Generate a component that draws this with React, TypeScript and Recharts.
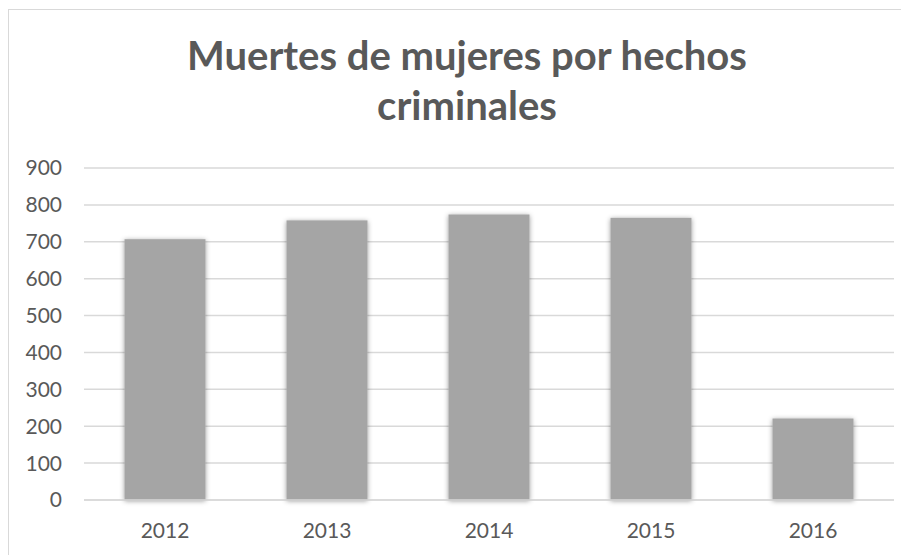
import React from 'react';
import { BarChart, Bar, XAxis, YAxis, CartesianGrid } from 'recharts';

const years = ['2012', '2013', '2014', '2015', '2016'];
const muertes = [707, 758, 774, 765, 221];
const yTicks = [0, 100, 200, 300, 400, 500, 600, 700, 800, 900];

const data = years.map((year, i) => ({ year, value: muertes[i] }));

const FONT = 'Lato, "Open Sans", sans-serif';
const TEXT = '#595959';
const GRID = '#d9d9d9';

const ShadowBar = (props: any) => {
  const { x, y, width, height } = props;
  return (
    <rect x={x} y={y} width={width} height={height} fill="#a5a5a5" filter="url(#barShadow)" />
  );
};

const App: React.FC = () => {
  return (
    <div
      style={{
        position: 'relative',
        width: 900,
        height: 546,
        marginTop: 1,
        borderLeft: `1.5px solid ${GRID}`,
        borderTop: `1.5px solid ${GRID}`,
        background: '#fff',
        fontFamily: FONT,
      }}
    >
      <svg width={0} height={0} style={{ position: 'absolute' }}>
        <defs>
          <filter id="barShadow" x="-20%" y="-20%" width="140%" height="140%">
            <feDropShadow dx={0} dy={1} stdDeviation={2.5} floodColor="#000" floodOpacity={0.4} />
          </filter>
        </defs>
      </svg>
      <div
        style={{
          position: 'absolute',
          top: 20,
          left: 0,
          width: 900,
          boxSizing: 'border-box',
          paddingLeft: 16,
          textAlign: 'center',
          color: TEXT,
          fontWeight: 700,
          fontSize: 40,
          lineHeight: '50px',
        }}
      >
        Muertes de mujeres por hechos
        <br />
        criminales
      </div>
      <BarChart
        width={900}
        height={546}
        data={data}
        margin={{ top: 158, right: 15, left: 0, bottom: 16 }}
        barCategoryGap="25%"
      >
        <CartesianGrid vertical={false} stroke={GRID} strokeWidth={1.5} />
        <XAxis
          dataKey="year"
          axisLine={{ stroke: GRID, strokeWidth: 1.5 }}
          tickLine={false}
          tickSize={0}
          tickMargin={23}
          height={40}
          tick={{ fill: TEXT, fontSize: 21, fontFamily: FONT }}
        />
        <YAxis
          domain={[0, 900]}
          ticks={yTicks}
          axisLine={false}
          tickLine={false}
          tickSize={0}
          tickMargin={22}
          width={75}
          interval={0}
          tick={{ fill: TEXT, fontSize: 21, fontFamily: FONT }}
        />
        <Bar dataKey="value" shape={<ShadowBar />} isAnimationActive={false} />
      </BarChart>
    </div>
  );
};

export default App;
